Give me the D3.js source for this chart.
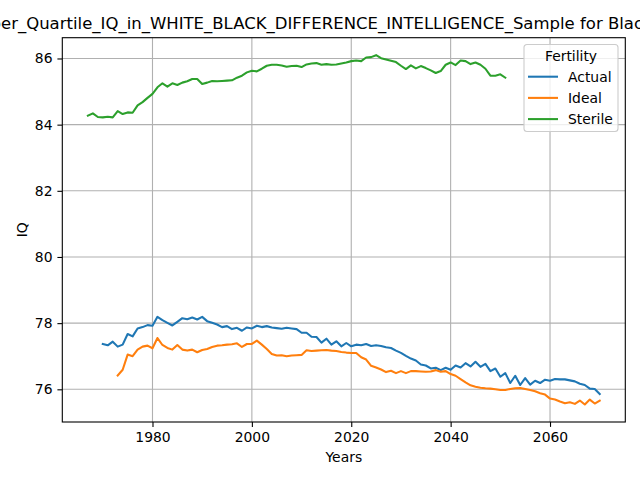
<!DOCTYPE html>
<html>
<head>
<meta charset="utf-8">
<script src="https://cdn.jsdelivr.net/npm/d3@7"></script>
<style>
  body { margin: 0; background: white; }
  svg { font-family: "DejaVu Sans", sans-serif; }
</style>
</head>
<body>
<div id="viz"></div>
<script>
// values
const actualYears = d3.range(1970, 2071);
const actualIQ = [
  77.37, 77.33, 77.44, 77.29, 77.35, 77.67, 77.60, 77.84, 77.88, 77.94,
  77.92, 78.19, 78.09, 78.01, 77.93, 78.04, 78.15, 78.12, 78.17, 78.11,
  78.19, 78.06, 78.01, 77.96, 77.88, 77.91, 77.82, 77.86, 77.77, 77.87,
  77.84, 77.92, 77.88, 77.91, 77.87, 77.85, 77.83, 77.86, 77.84, 77.82,
  77.71, 77.71, 77.59, 77.58, 77.41, 77.53, 77.35, 77.45, 77.30, 77.40,
  77.30, 77.35, 77.33, 77.37, 77.31, 77.33, 77.31, 77.27, 77.25, 77.17,
  77.10, 77.01, 76.93, 76.87, 76.75, 76.72, 76.63, 76.65, 76.58, 76.65,
  76.59, 76.72, 76.66, 76.79, 76.69, 76.83, 76.68, 76.77, 76.55, 76.63,
  76.38, 76.49, 76.19, 76.41, 76.13, 76.34, 76.14, 76.26, 76.19, 76.29,
  76.26, 76.31, 76.30, 76.30, 76.27, 76.24, 76.17, 76.13, 76.02, 76.01,
  75.86
];

const idealYears = d3.range(1973, 2071);
const idealIQ = [
  76.42, 76.59, 77.05, 77.00, 77.20, 77.29, 77.32,
  77.24, 77.55, 77.34, 77.25, 77.20, 77.34, 77.20, 77.17, 77.20, 77.12,
  77.19, 77.22, 77.28, 77.32, 77.33, 77.35, 77.36, 77.39, 77.28, 77.37,
  77.37, 77.47, 77.35, 77.22, 77.07, 77.02, 77.03, 77.00, 77.02, 77.03,
  77.04, 77.18, 77.16, 77.17, 77.18, 77.19, 77.17, 77.16, 77.13, 77.11,
  77.10, 77.10, 76.97, 76.90, 76.71, 76.66, 76.60, 76.52, 76.56, 76.49,
  76.55, 76.49, 76.55, 76.55, 76.54, 76.53, 76.54, 76.58, 76.53, 76.55,
  76.46, 76.41, 76.31, 76.21, 76.12, 76.08, 76.05, 76.03, 76.02, 76.00,
  75.98, 75.98, 76.01, 76.03, 76.04, 76.01, 75.98, 75.94, 75.88, 75.84,
  75.72, 75.69, 75.63, 75.58, 75.61, 75.56, 75.66, 75.54, 75.69, 75.57,
  75.66
];

const sterileYears = d3.range(1967, 2052);
const sterileIQ = [
  84.27, 84.34, 84.23,
  84.22, 84.24, 84.22, 84.41, 84.32, 84.37, 84.36, 84.58, 84.68, 84.81,
  84.93, 85.13, 85.25, 85.15, 85.25, 85.20, 85.27, 85.31, 85.38, 85.38,
  85.23, 85.27, 85.32, 85.31, 85.32, 85.33, 85.34, 85.42, 85.48, 85.58,
  85.63, 85.61, 85.69, 85.78, 85.81, 85.81, 85.79, 85.75, 85.77, 85.78,
  85.74, 85.82, 85.85, 85.86, 85.81, 85.83, 85.81, 85.82, 85.85, 85.88,
  85.92, 85.94, 85.92, 86.03, 86.04, 86.10, 86.01, 85.97, 85.93, 85.89,
  85.78, 85.68, 85.79, 85.70, 85.77, 85.71, 85.64, 85.56, 85.62, 85.81,
  85.88, 85.80, 85.94, 85.92, 85.83, 85.88, 85.81, 85.69, 85.48, 85.48,
  85.52, 85.42
];

const seriesNames = ["Actual", "Ideal", "Sterile"];
const seriesColors = ["#1f77b4", "#ff7f0e", "#2ca02c"];
const xTicks = [1980, 2000, 2020, 2040, 2060];
const yTicks = [76, 78, 80, 82, 84, 86];

// the reference only shows the middle of this title, the ends run off the page
const titleText = "Upper_Quartile_IQ_in_WHITE_BLACK_DIFFERENCE_INTELLIGENCE_Sample for Blacks";

const series = [
  { name: seriesNames[0], color: seriesColors[0], pts: actualYears.map((y, i) => ({ yr: y, v: actualIQ[i] })) },
  { name: seriesNames[1], color: seriesColors[1], pts: idealYears.map((y, i) => ({ yr: y, v: idealIQ[i] })) },
  { name: seriesNames[2], color: seriesColors[2], pts: sterileYears.map((y, i) => ({ yr: y, v: sterileIQ[i] })) }
];

// set the dimensions and margins of the graph
const W = 640, H = 480;
const margin = { top: 37.7, right: 14.7, bottom: 58, left: 62.3 };
const width = W - margin.left - margin.right,
      height = H - margin.top - margin.bottom;

const svg = d3.select("#viz")
  .append("svg")
    .attr("width", W)
    .attr("height", H);

const g = svg.append("g")
  .attr("transform", `translate(${margin.left},${margin.top})`);

// matplotlib style 5% padding around the data
const allYears = series.flatMap(s => s.pts.map(p => p.yr));
const allVals = series.flatMap(s => s.pts.map(p => p.v));
const xe = d3.extent(allYears), ye = d3.extent(allVals);
const xp = (xe[1] - xe[0]) * 0.05, yp = (ye[1] - ye[0]) * 0.05;

const x = d3.scaleLinear().domain([xe[0] - xp, xe[1] + xp]).range([0, width]);
const y = d3.scaleLinear().domain([ye[0] - yp, ye[1] + yp]).range([height, 0]);

// grid
g.append("g")
  .selectAll("line.gx")
  .data(xTicks)
  .join("line")
    .attr("x1", d => x(d)).attr("x2", d => x(d))
    .attr("y1", 0).attr("y2", height)
    .attr("stroke", "#b0b0b0").attr("stroke-width", 1.1);

g.append("g")
  .selectAll("line.gy")
  .data(yTicks)
  .join("line")
    .attr("y1", d => y(d)).attr("y2", d => y(d))
    .attr("x1", 0).attr("x2", width)
    .attr("stroke", "#b0b0b0").attr("stroke-width", 1.1);

// lines
const line = d3.line()
  .x(d => x(d.yr))
  .y(d => y(d.v));

series.forEach(s => {
  g.append("path")
    .datum(s.pts)
      .attr("fill", "none")
      .attr("stroke", s.color)
      .attr("stroke-width", 2.08)
      .attr("stroke-linejoin", "round")
      .attr("stroke-linecap", "square")
      .attr("d", line);
});

// axes
const xAxis = g.append("g")
  .attr("transform", `translate(0,${height})`)
  .call(d3.axisBottom(x).tickValues(xTicks).tickFormat(d3.format("d")).tickSize(4.9).tickPadding(4.9));
const yAxis = g.append("g")
  .call(d3.axisLeft(y).tickValues(yTicks).tickFormat(d3.format("d")).tickSize(4.9).tickPadding(4.9));

[xAxis, yAxis].forEach(a => {
  a.select(".domain").remove();
  a.selectAll(".tick line").attr("stroke", "black").attr("stroke-width", 1.1);
  a.selectAll(".tick text")
    .attr("fill", "black")
    .style("font-size", "13.9px")
    .style("font-family", "DejaVu Sans");
});

// frame
g.append("rect")
  .attr("width", width).attr("height", height)
  .attr("fill", "none").attr("stroke", "black").attr("stroke-width", 1.1);

// labels
svg.append("text")
  .attr("x", margin.left + width / 2).attr("y", 462)
  .attr("text-anchor", "middle")
  .style("font-size", "13.9px")
  .text("Years");

svg.append("text")
  .attr("transform", `translate(27,${margin.top + height / 2}) rotate(-90)`)
  .attr("text-anchor", "middle")
  .style("font-size", "13.9px")
  .text("IQ");

// title: line it up so that "er_Quartile" starts at the left edge like the reference
const title = svg.append("text")
  .attr("x", 0).attr("y", 29)
  .attr("text-anchor", "start")
  .style("font-size", "16.5px")
  .text(titleText);
const hidden = title.node().getSubStringLength(0, 3);
title.attr("x", 1 - hidden);

// legend
const lg = svg.append("g").attr("transform", "translate(524,44.5)");
lg.append("rect")
  .attr("width", 94).attr("height", 87)
  .attr("rx", 3)
  .attr("fill", "white").attr("fill-opacity", 0.8)
  .attr("stroke", "#cccccc").attr("stroke-width", 1.1);
lg.append("text")
  .attr("x", 47).attr("y", 16.5)
  .attr("text-anchor", "middle")
  .style("font-size", "13.9px")
  .text("Fertility");

const rows = lg.selectAll("g.row")
  .data(series)
  .join("g")
    .attr("transform", (d, i) => `translate(0,${32.2 + i * 21.2})`);
rows.append("line")
  .attr("x1", 4).attr("x2", 34)
  .attr("stroke", d => d.color).attr("stroke-width", 2.08);
rows.append("text")
  .attr("x", 44).attr("y", 5)
  .style("font-size", "13.9px")
  .text(d => d.name);
</script>
</body>
</html>
